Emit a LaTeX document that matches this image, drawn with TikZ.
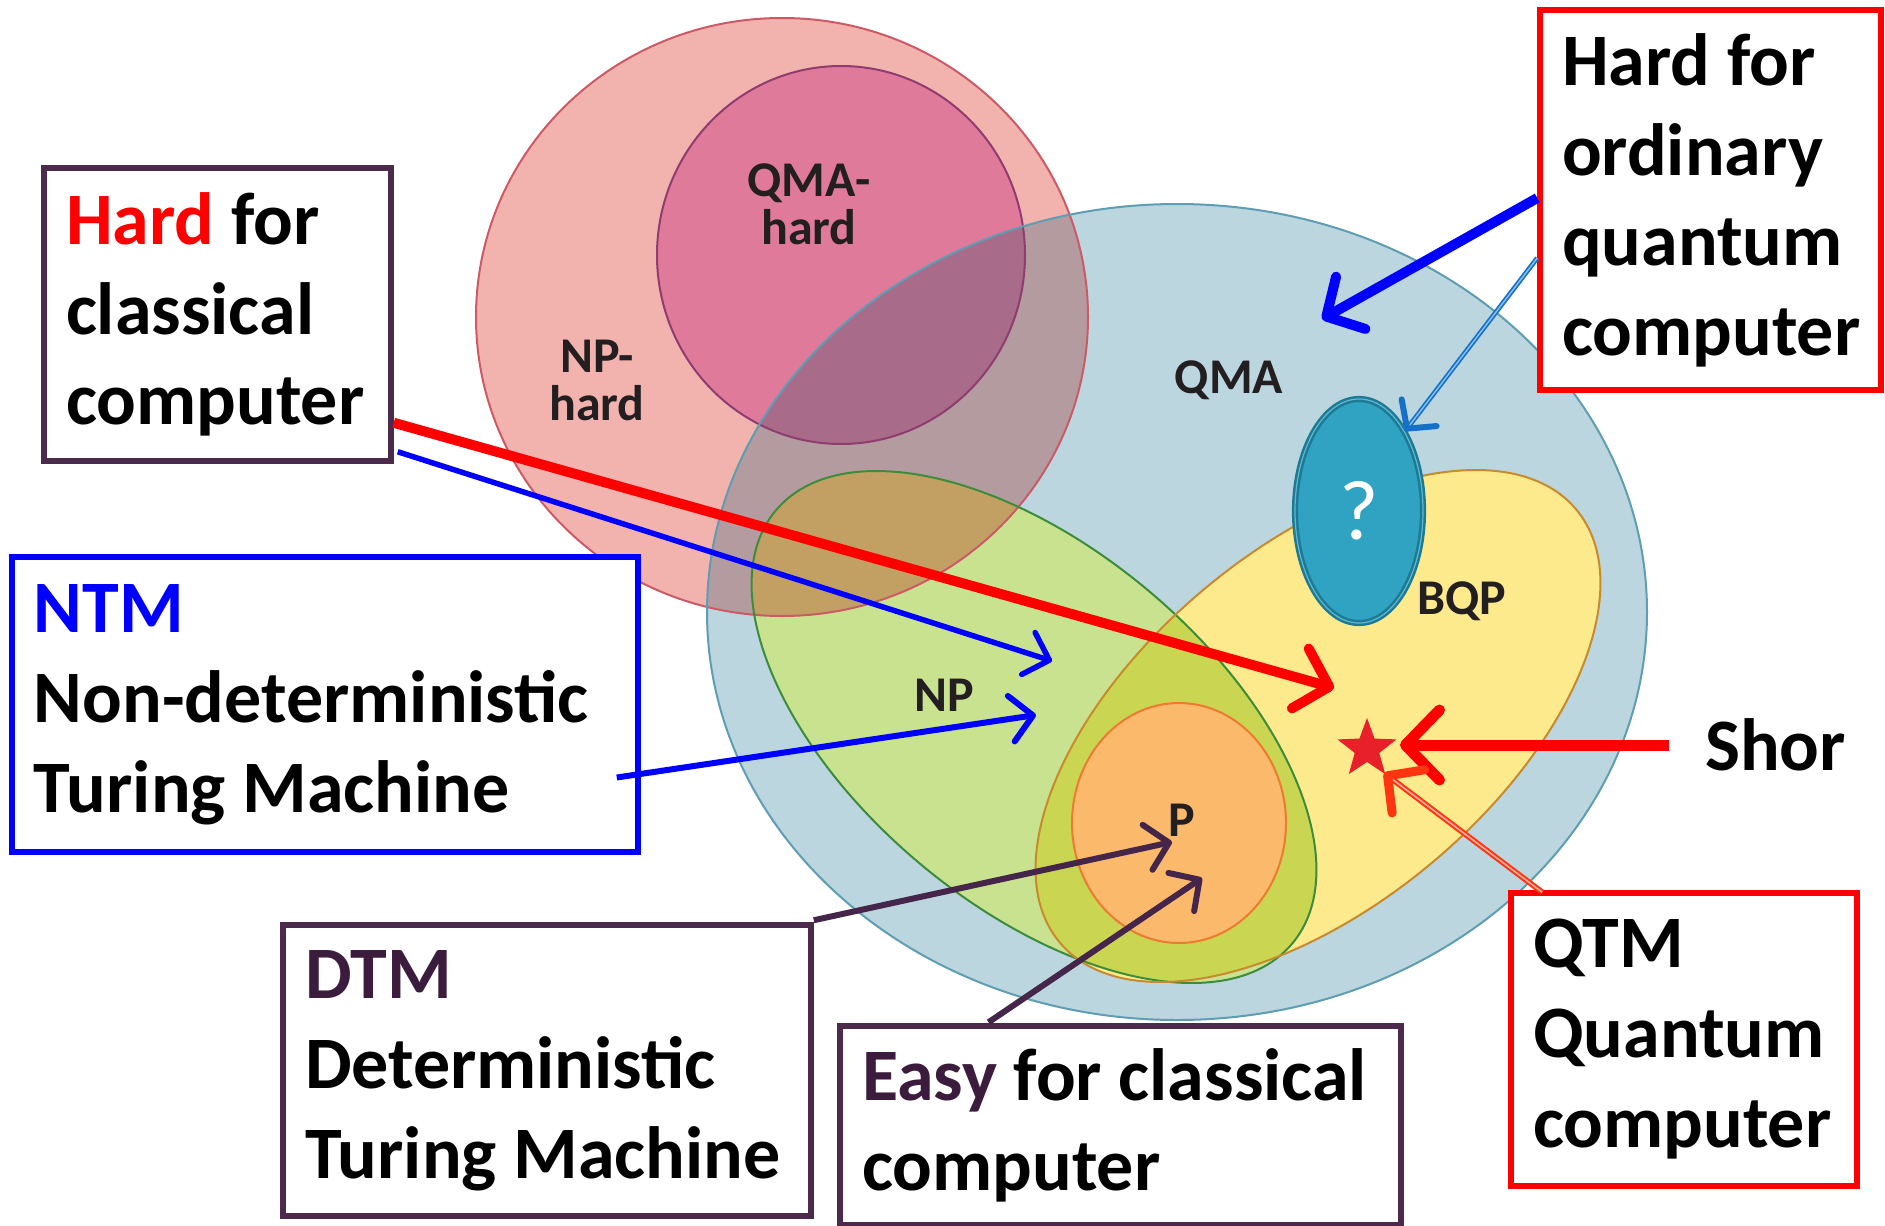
\documentclass[tikz,border=0pt]{standalone}
\usepackage{fontspec}
\setmainfont{Carlito}
\usetikzlibrary{arrows.meta, shapes.geometric, calc}

\definecolor{nphardfill}{HTML}{F2B2AE}
\definecolor{nphardline}{HTML}{CC5A66}
\definecolor{qmahardfill}{HTML}{E07A9B}
\definecolor{qmahardline}{HTML}{8E3D6E}
\definecolor{qmafill}{HTML}{BBD6DF}
\definecolor{qmaline}{HTML}{5E9DB2}
\definecolor{nphqma}{HTML}{B49BA0}
\definecolor{qmahqma}{HTML}{A86B8A}
\definecolor{npfill}{HTML}{C9E28F}
\definecolor{npline}{HTML}{3C8C3C}
\definecolor{npnph}{HTML}{C2A064}
\definecolor{bqpfill}{HTML}{FDEA8C}
\definecolor{bqpline}{HTML}{C88A2E}
\definecolor{npbqp}{HTML}{CAD652}
\definecolor{pfill}{HTML}{FBB96C}
\definecolor{pline}{HTML}{EE7A30}
\definecolor{qmarkfill}{HTML}{30A2C2}
\definecolor{qmarkline}{HTML}{1E7A94}
\definecolor{qmarkring}{HTML}{5DB8D2}
\definecolor{labelink}{HTML}{231F20}
\definecolor{hardred}{HTML}{FF0000}
\definecolor{ntmblue}{HTML}{0000FF}
\definecolor{boxpurple}{HTML}{4B2A4B}
\definecolor{dtmpurple}{HTML}{3C1C3C}
\definecolor{arrowpurple}{HTML}{45264A}
\definecolor{quantblue}{HTML}{1570C8}
\definecolor{quantlight}{HTML}{8CC0EC}
\definecolor{qtmorange}{HTML}{FF3410}
\definecolor{qtmlight}{HTML}{FFB0A0}
\definecolor{starred}{HTML}{E8202A}

% box text: large bold, no hyphenation
\protected\def\boxfont{\fontsize{74pt}{90pt}\selectfont\bfseries\hyphenpenalty=10000\relax}

\tikzset{
  infobox/.style={draw=#1, line width=5.5pt, fill=white, inner xsep=22pt, inner ysep=0pt,
    align=left, font=\boxfont,
    execute at begin node={\spaceskip=0pt\xspaceskip=0pt\relax}},
  setlabel/.style={inner sep=0pt, align=center, text=labelink,
    font=\fontsize{50pt}{48pt}\selectfont\bfseries},
  setline/.style={line width=2pt},
  tipbarb/.style 2 args={-{Straight Barb[length=#1, width=#2, round]}}
}

\begin{document}
\begin{tikzpicture}[x=1pt, y=-1pt]
\useasboundingbox (0,0) rectangle (1885,1226);

% set fills, overlaps by clipping
\fill[nphardfill] (782,317) circle[x radius=306pt, y radius=299pt];
\fill[qmahardfill] (841,255) circle[x radius=184pt, y radius=189pt];
\fill[qmafill] (1177,612) circle[x radius=470pt, y radius=408pt];
\begin{scope}
  \clip (1177,612) circle[x radius=470pt, y radius=408pt];
  \fill[nphqma] (782,317) circle[x radius=306pt, y radius=299pt];
  \fill[qmahqma] (841,255) circle[x radius=184pt, y radius=189pt];
\end{scope}
\fill[npfill] (1034,727) circle[x radius=337pt, y radius=178pt, rotate=-40];
\begin{scope}
  \clip (1034,727) circle[x radius=337pt, y radius=178pt, rotate=-40];
  \fill[npnph] (782,317) circle[x radius=306pt, y radius=299pt];
\end{scope}
\fill[bqpfill] (1318,726) circle[x radius=337pt, y radius=178pt, rotate=40];
\begin{scope}
  \clip (1318,726) circle[x radius=337pt, y radius=178pt, rotate=40];
  \fill[npbqp] (1034,727) circle[x radius=337pt, y radius=178pt, rotate=-40];
\end{scope}
\fill[pfill] (1179,823) circle[x radius=107pt, y radius=120pt];

% set outlines
\draw[setline, nphardline] (782,317) circle[x radius=306pt, y radius=299pt];
\draw[setline, qmahardline] (841,255) circle[x radius=184pt, y radius=189pt];
\draw[setline, qmaline] (1177,612) circle[x radius=470pt, y radius=408pt];
\draw[setline, npline] (1034,727) circle[x radius=337pt, y radius=178pt, rotate=-40];
\draw[setline, bqpline] (1318,726) circle[x radius=337pt, y radius=178pt, rotate=40];
\draw[setline, pline] (1179,823) circle[x radius=107pt, y radius=120pt];

% unknown class
\node[ellipse, draw=qmarkline, line width=2.5pt, double=qmarkring, double distance=1.2pt,
  fill=qmarkfill, minimum width=128pt, minimum height=224pt, text=white,
  font=\fontsize{85pt}{85pt}\selectfont] (qmark) at (1359,511) {?};

% set labels
\node[setlabel] (qmahlabel) at (809,204) {QMA-\\hard};
\node[setlabel] (nphlabel) at (597,380) {NP-\\hard};
\node[setlabel] (qmalabel) at (1229,380) {QMA};
\node[setlabel] (nplabel) at (944,695) {NP};
\node[setlabel] (bqplabel) at (1462,601) {BQP};
\node[setlabel] (plabel) at (1182,820) {P};

\node[star, star points=5, star point ratio=2.4, minimum size=62pt, inner sep=0pt,
  fill=starred] (shorstar) at (1367,749) {};

% text boxes
\node[infobox=boxpurple, text width=303pt, minimum height=293pt] (hardc) at (217.5,314.5)
  {\textcolor{hardred}{Hard} for\\classical\\computer};
\node[infobox=ntmblue, text width=582pt, minimum height=295pt] (ntm) at (325,704.5)
  {\textcolor{ntmblue}{NTM}\\Non-deterministic\\\mbox{Turing Machine}};
\node[infobox=hardred, text width=297pt, minimum height=380pt] (hardq) at (1710.5,200)
  {\mbox{Hard for}\\ordinary\\quantum\\computer};
\node[infobox=boxpurple, text width=484pt, minimum height=291pt] (dtm) at (547,1070.5)
  {\textcolor{dtmpurple}{DTM}\\Deterministic\\\mbox{Turing Machine}};
\node[infobox=boxpurple, text width=517pt, minimum height=199pt] (easy) at (1120.5,1125.5)
  {\mbox{\textcolor{dtmpurple}{Easy} for classical}\\computer};
\node[infobox=hardred, text width=302pt, minimum height=293pt] (qtm) at (1684,1039.5)
  {QTM\\Quantum\\computer};
\node[anchor=west, inner sep=0pt, font=\boxfont] (shor) at (1705,745) {Shor};

% arrow targets inside the sets
\coordinate (bqptip) at (1334,688);
\coordinate (nptipa) at (1052,661);
\coordinate (nptipb) at (1036,715);
\coordinate (qmatip) at (1322,319);
\coordinate (ptipa) at (1172,842);
\coordinate (ptipb) at (1202,878);
\coordinate (startipa) at (1400,745);
\coordinate (startipb) at (1384,773);

% arrows
\draw[line width=10pt, hardred, tipbarb={30pt}{62pt}] ([yshift=41pt]hardc.south east) -- (bqptip);
\draw[line width=5.5pt, ntmblue, tipbarb={22pt}{44pt}] ([xshift=4pt,yshift=12pt]hardc.south east) -- (nptipa);
\draw[line width=6pt, ntmblue, tipbarb={22pt}{46pt}] ([xshift=-24pt,yshift=-73pt]ntm.east) -- (nptipb);
\draw[line width=10pt, ntmblue, tipbarb={28pt}{60pt}] ([yshift=2pt]hardq.west) -- (qmatip);
\draw[line width=1.7pt, quantblue, double=quantlight, double distance=1.4pt,
  -{Straight Barb[length=20pt, width=44pt, line width=6pt, round]}]
  ([yshift=-58pt]hardq.west) -- (qmark.60);
\draw[line width=11pt, hardred, tipbarb={34pt}{70pt}, shorten <=36pt] (shor.west) -- (startipa);
\draw[line width=2pt, qtmorange, double=qtmlight, double distance=1.6pt,
  -{Straight Barb[length=26pt, width=54pt, line width=9pt, round]}]
  ([xshift=34pt, yshift=-2pt]qtm.north west) -- (startipb);
\draw[line width=6pt, arrowpurple, tipbarb={22pt}{46pt}] ([yshift=2pt]dtm.north east) -- (ptipa);
\draw[line width=6pt, arrowpurple, tipbarb={22pt}{46pt}] ([xshift=-132pt,yshift=1pt]easy.north) -- (ptipb);

\end{tikzpicture}
\end{document}
